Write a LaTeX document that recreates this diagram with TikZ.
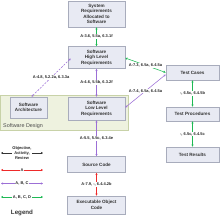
\documentclass[tikz,border=0pt]{standalone}
\usepackage{fontspec}
\setmainfont{Liberation Sans}
\usetikzlibrary{arrows.meta}
\definecolor{boxfill}{HTML}{E8EAF3}
\definecolor{boxdraw}{HTML}{A8ACBC}
\definecolor{grn}{HTML}{1DB954}
\definecolor{prp}{HTML}{9C6FD6}
\definecolor{rd}{HTML}{EE2A2A}
\definecolor{grpfill}{HTML}{EEF2DF}
\definecolor{grpdraw}{HTML}{C8D2A8}
\begin{document}
\begin{tikzpicture}[x=1pt,y=-1pt,
 box/.style={draw=boxdraw, fill=boxfill, line width=0.6pt, align=center,
   font=\fontsize{4.6}{5.6}\selectfont\bfseries, inner sep=0pt, text=black!80},
 lbl/.style={fill=white, font=\fontsize{4}{4.6}\selectfont\bfseries, inner sep=0.6pt, text=black!85},
 link/.style={line width=0.55pt, {Stealth[length=2.2pt,width=2.2pt]}-{Stealth[length=2.2pt,width=2.2pt]}},
]
\useasboundingbox (0,0) rectangle (220,220);
% group
\node[draw=grpdraw, fill=grpfill, line width=0.6pt, minimum width=128pt, minimum height=35pt, inner sep=0pt] (design) at (64.5,112.5) {};
\node[anchor=south west, font=\fontsize{5.4}{6}\selectfont, text=black!70, inner sep=0pt] (designlbl) at (3,128.5) {Software Design};
% boxes
\node[box, minimum width=57pt, minimum height=26pt] (sys) at (96.5,14) {System\\Requirements\\Allocated to\\Software};
\node[box, minimum width=57pt, minimum height=22pt] (hlr) at (96.5,57.5) {Software\\High Level\\Requirements};
\node[box, minimum width=37pt, minimum height=21pt] (arch) at (28.5,107.5) {Software\\Architecture};
\node[box, minimum width=57pt, minimum height=23pt] (llr) at (96.5,108.5) {Software\\Low Level\\Requirements};
\node[box, minimum width=58pt, minimum height=16pt] (src) at (96.5,164.5) {Source Code};
\node[box, minimum width=58pt, minimum height=18pt] (exe) at (96.5,205) {Executable Object\\Code};
\node[box, minimum width=53pt, minimum height=15pt] (tc) at (192.5,72.5) {Test Cases};
\node[box, minimum width=53pt, minimum height=14pt] (tp) at (192.5,114) {Test Procedures};
\node[box, minimum width=53pt, minimum height=15pt] (tr) at (192.5,154.5) {Test Results};
% connectors
\draw[link, grn] (sys) -- node[lbl]{A-3.6, 5.5a, 6.3.1f} (hlr);
\draw[link, prp, dashed, dash pattern=on 2pt off 1.3pt] ([xshift=3pt,yshift=-1pt]hlr.west) -- node[lbl]{A-4.8, 5.2.2a, 6.3.3a} ([xshift=3pt]arch.north);
\draw[link, prp] (hlr) -- node[lbl]{A-4.6, 5.5b, 6.3.2f} (llr);
\draw[link, grn] ([yshift=-0.5pt]hlr.east) -- node[lbl]{A-7.3, 6.5a, 6.4.5a} (tc.west);
\draw[link, prp] ([yshift=-2pt]tc.west) -- node[lbl]{A-7.4, 6.5a, 6.4.5a} ([yshift=1pt]llr.east);
\draw[link, grn] (tc) -- node[lbl]{-, 6.5c, 6.4.5b} (tp);
\draw[link, grn] (tp) -- node[lbl]{-, 6.5c, 6.4.5c} (tr);
\draw[link, prp] (llr) -- node[lbl]{A-5.5, 5.5c, 6.3.4e} (src);
\draw[link, rd] (src) -- node[lbl]{A-7.9, -, 6.4.4.2b} (exe);
% legend
\coordinate (k1a) at (1,153); \coordinate (k1b) at (43,153);
\coordinate (k2a) at (1,170); \coordinate (k2b) at (43,170);
\coordinate (k3a) at (1,183.5); \coordinate (k3b) at (43,183.5);
\coordinate (k4a) at (1,197); \coordinate (k4b) at (43,197);
\draw[link, black!80] (k1a) -- node[lbl, align=center]{Objective,\\Activity,\\Review} (k1b);
\draw[link, rd] (k2a) -- node[lbl]{A} (k2b);
\draw[link, prp] (k3a) -- node[lbl]{A, B, C} (k3b);
\draw[link, grn] (k4a) -- node[lbl]{A, B, C, D} (k4b);
\node[font=\fontsize{6.2}{7}\selectfont\bfseries, text=black!80, inner sep=0pt] (legend) at (22,213) {Legend};
\end{tikzpicture}
\end{document}
